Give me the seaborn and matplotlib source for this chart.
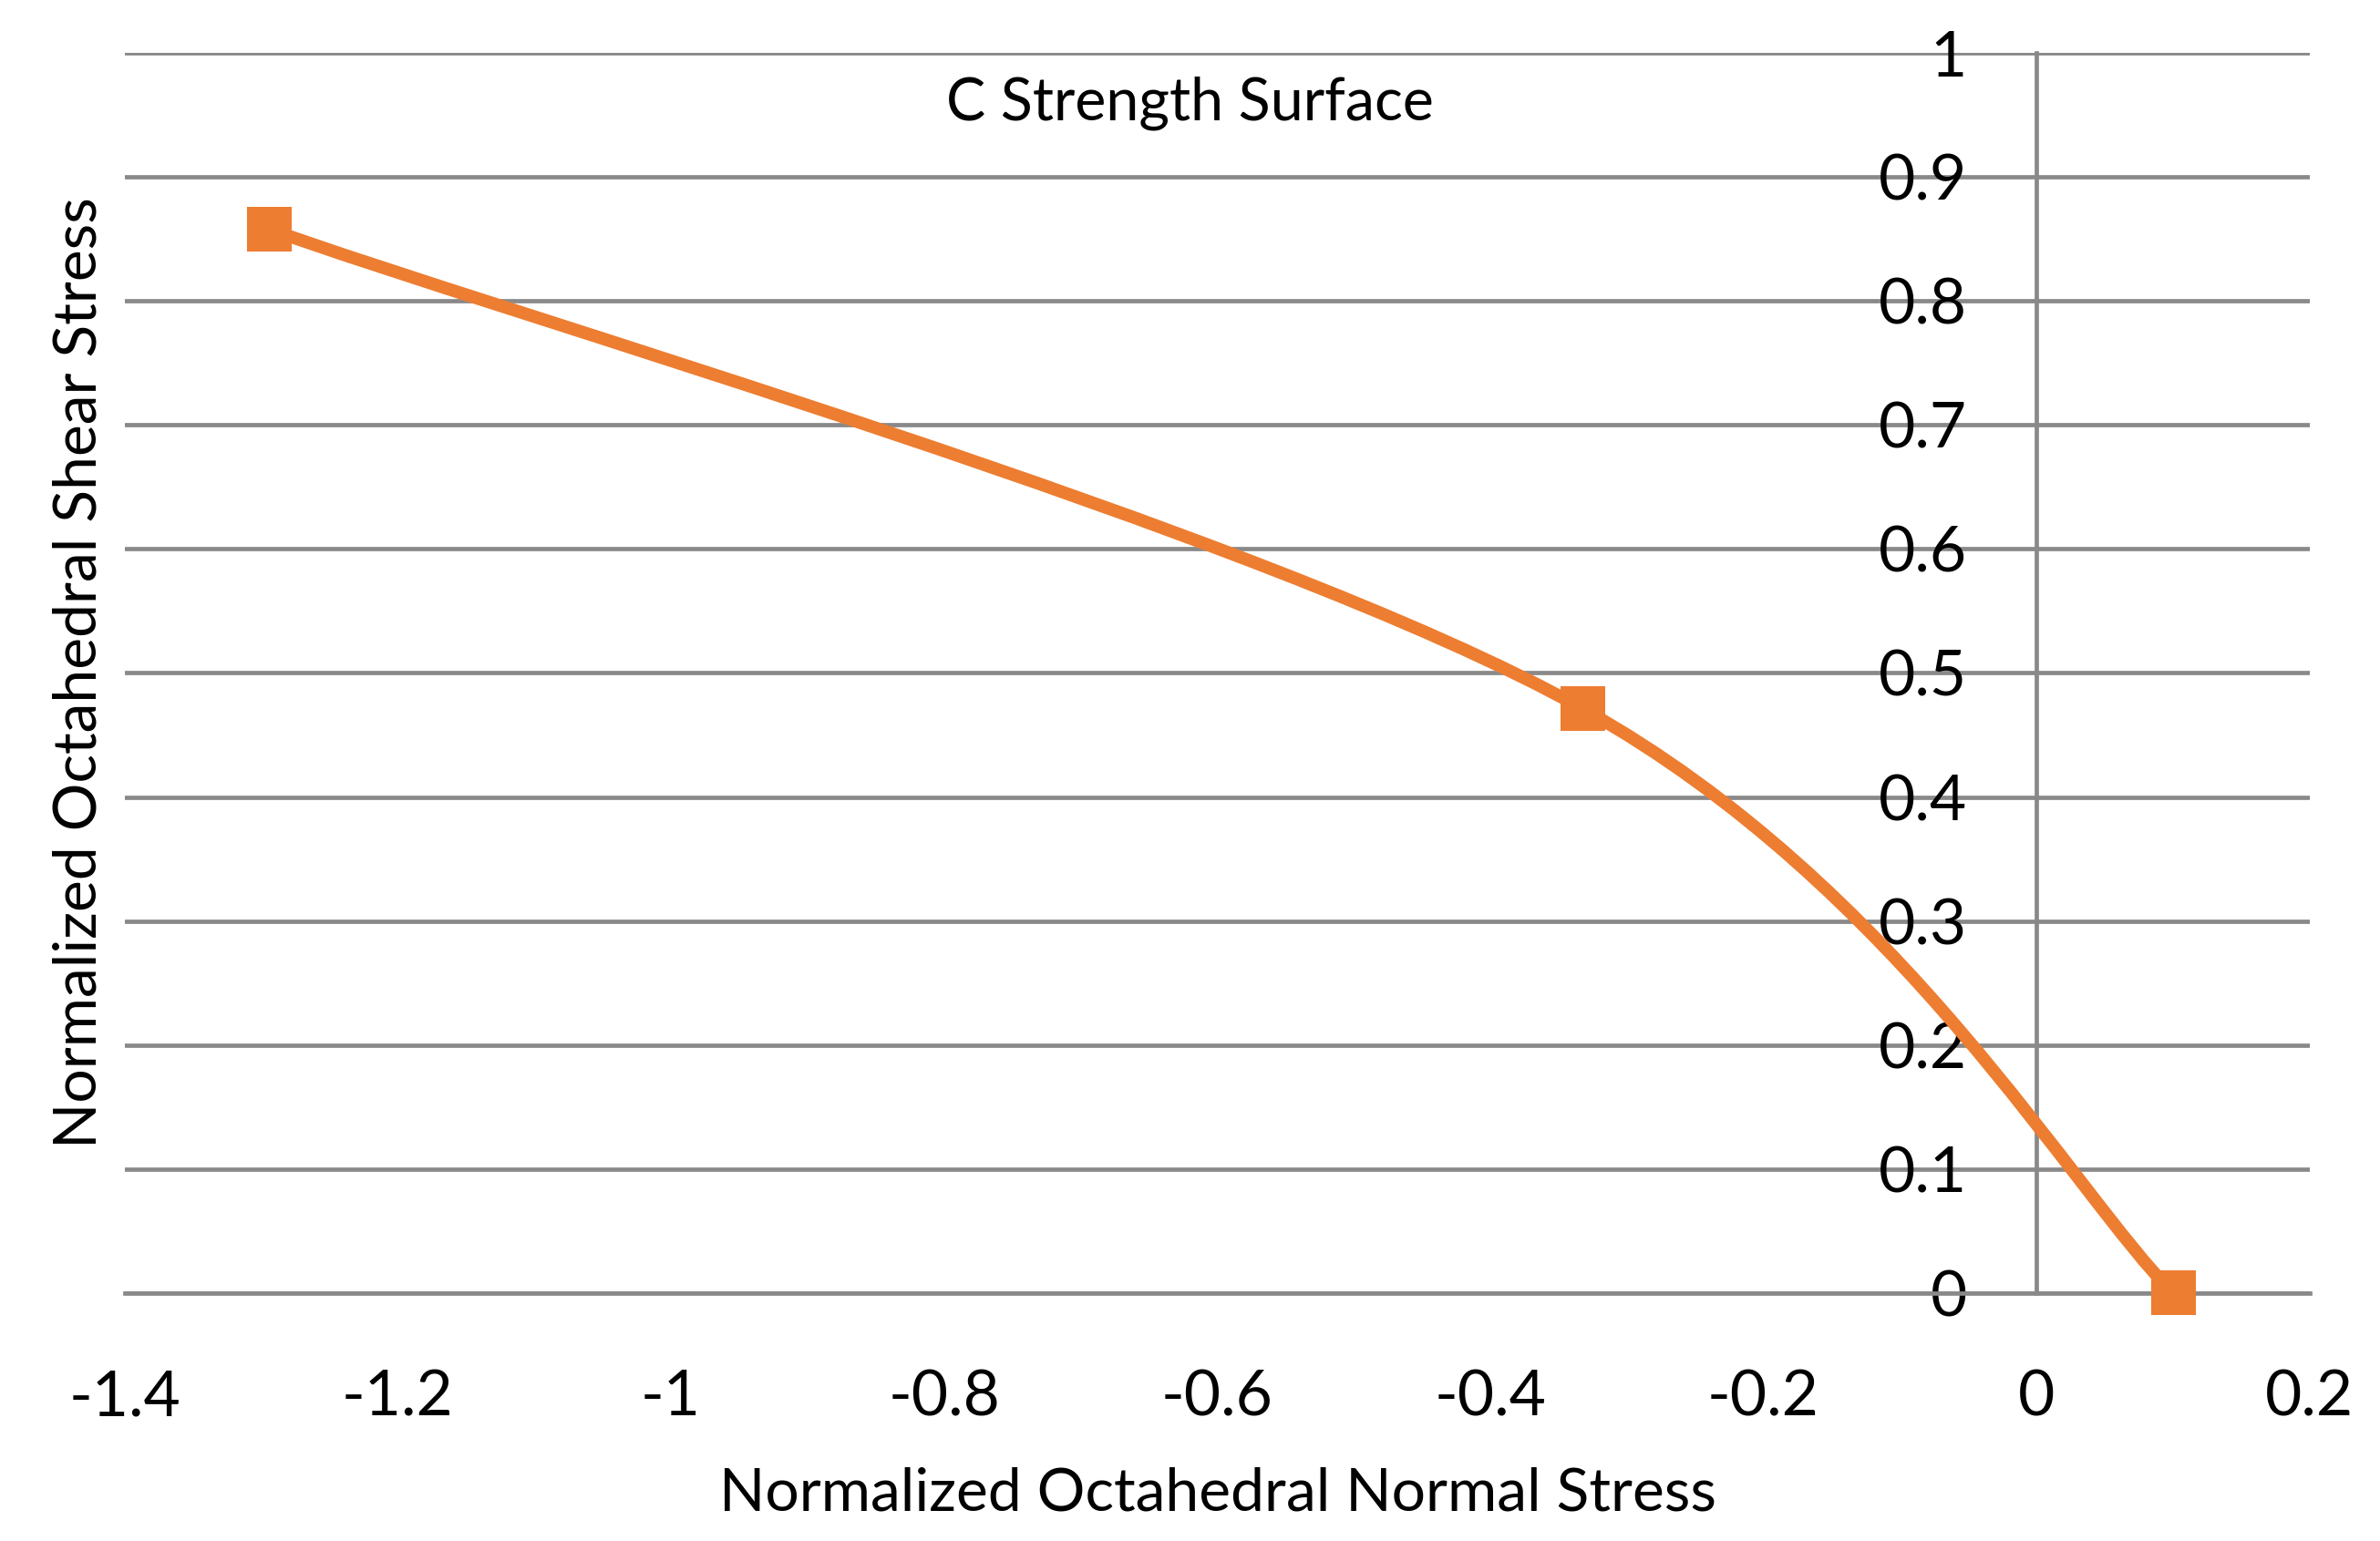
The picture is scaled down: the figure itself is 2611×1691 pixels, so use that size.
import numpy as np
import pandas as pd
import matplotlib
matplotlib.use("Agg")
import matplotlib.pyplot as plt
from matplotlib.path import Path
from matplotlib.patches import PathPatch
import seaborn as sns

# ---- data ----
normal_stress = [-1.294, -0.332, 0.100]
shear_stress = [0.858, 0.471, 0.0]
x_ticks = [-1.4, -1.2, -1.0, -0.8, -0.6, -0.4, -0.2, 0.0, 0.2]
x_tick_labels = ["-1.4", "-1.2", "-1", "-0.8", "-0.6", "-0.4", "-0.2", "0", "0.2"]
y_ticks = [0.0, 0.1, 0.2, 0.3, 0.4, 0.5, 0.6, 0.7, 0.8, 0.9, 1.0]
y_tick_labels = ["0", "0.1", "0.2", "0.3", "0.4", "0.5", "0.6", "0.7", "0.8", "0.9", "1"]
title = "C Strength Surface"
x_label = "Normalized Octahedral Normal Stress"
y_label = "Normalized Octahedral Shear Stress"

df = pd.DataFrame({"x": normal_stress, "y": shear_stress})

sns.set_theme(style="white")
plt.rcParams["font.family"] = ["Lato", "DejaVu Sans"]
plt.rcParams["axes.unicode_minus"] = False

ORANGE = "#ED7D31"
GRID = "#898989"

fig = plt.figure(figsize=(26.11, 16.91), dpi=100)
ax = fig.add_axes([0.0523, 0.1609, 0.9182, 0.8048])

# smooth (Excel-like) curve through the points using cubic Bezier segments
pts = np.column_stack([df["x"].values, df["y"].values])
n = len(pts)
verts = [tuple(pts[0])]
codes = [Path.MOVETO]
for i in range(n - 1):
    p_prev = pts[i - 1] if i > 0 else pts[i]
    p0 = pts[i]
    p1 = pts[i + 1]
    p_next = pts[i + 2] if i + 2 < n else pts[i + 1]
    c1 = p0 + (p1 - p_prev) / 6.0
    c2 = p1 - (p_next - p0) / 6.0
    verts += [tuple(c1), tuple(c2), tuple(p1)]
    codes += [Path.CURVE4, Path.CURVE4, Path.CURVE4]
patch = PathPatch(Path(verts, codes), facecolor="none", edgecolor=ORANGE,
                  lw=10, zorder=5, capstyle="round", joinstyle="round")
patch.set_clip_on(False)
ax.add_patch(patch)

sns.scatterplot(data=df, x="x", y="y", ax=ax, marker="s", s=1250, color=ORANGE,
                edgecolor="none", zorder=6, clip_on=False, legend=False)

ax.set_xlim(-1.4, 0.2)
ax.set_ylim(0, 1)
ax.set_xticks(x_ticks)
ax.set_xticklabels(x_tick_labels)
ax.set_yticks(y_ticks)
ax.set_yticklabels(y_tick_labels)

for s in ["top", "right"]:
    ax.spines[s].set_visible(False)
ax.spines["left"].set_position(("data", 0))
ax.spines["left"].set_color(GRID)
ax.spines["left"].set_linewidth(3.4)
ax.spines["bottom"].set_color(GRID)
ax.spines["bottom"].set_linewidth(3.4)

ax.yaxis.grid(True, color=GRID, linewidth=3.4)
ax.xaxis.grid(False)
ax.set_axisbelow(True)

ax.tick_params(axis="x", direction="out", length=20, width=3.4, color=GRID,
               labelsize=50, pad=40, labelcolor="black")
ax.tick_params(axis="y", length=0, labelsize=50, pad=55, labelcolor="black")

ax.set_xlabel("")
ax.set_ylabel("")
fig.text(0.5117, 0.031, x_label, ha="center", va="center", fontsize=47.5, color="black")
fig.text(0.0333, 0.5636, y_label, ha="center", va="center", rotation=90, fontsize=47.5, color="black")
fig.text(0.5, 0.933, title, ha="center", va="center", fontsize=46.5, color="black")

fig.savefig("out.png", dpi=100)
